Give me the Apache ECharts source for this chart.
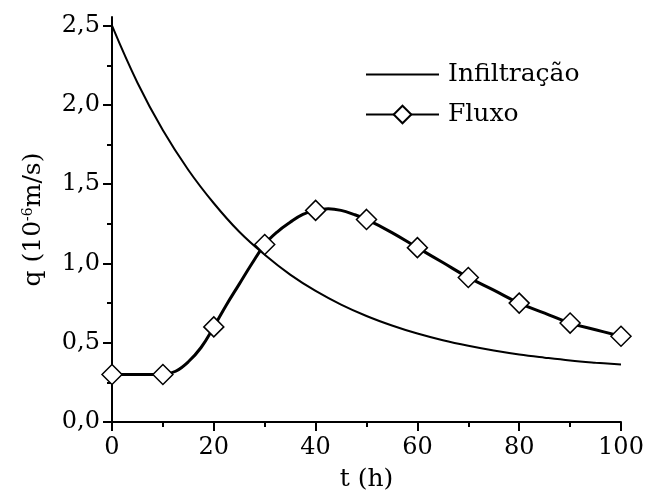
<!DOCTYPE html>
<html>
<head>
<meta charset="utf-8">
<script src="https://cdn.jsdelivr.net/npm/echarts@6/dist/echarts.min.js"></script>
<style>html,body{margin:0;padding:0;background:#fff;}#c{width:647px;height:497px;}</style>
</head>
<body>
<div id="c"></div>
<script>
// Infiltração curve samples (t in h, q in 1e-6 m/s)
var infT = [0,5,10,15,20,25,30,35,40,45,50,55,60,65,70,75,80,85,90,95,100];
var infQ = [2.50,2.14,1.84,1.59,1.38,1.20,1.055,0.93,0.827,0.741,0.669,0.609,0.558,0.516,0.481,0.451,0.426,0.406,0.388,0.374,0.362];
// Fluxo curve samples
var fluT = [0,5,10,12.5,15,17.5,20,22.5,25,27.5,30,32.5,35,37.5,40,42.5,45,47.5,50,55,60,65,70,75,80,85,90,95,100];
var fluQ = [0.30,0.30,0.30,0.32,0.38,0.47,0.60,0.74,0.87,1.00,1.12,1.20,1.26,1.31,1.335,1.345,1.335,1.31,1.278,1.195,1.10,1.006,0.912,0.832,0.75,0.687,0.624,0.582,0.541];
// Fluxo marker times
var markerT = [0,10,20,30,40,50,60,70,80,90,100];
var yLabels = [0,0.5,1.0,1.5,2.0,2.5];
var yMinor = [0.25,0.75,1.25,1.75,2.25];

var FONT = 'DejaVu Serif';
var chart = echarts.init(document.getElementById('c'));
var infData = infT.map(function(t,i){return [t, infQ[i]];});
var fluData = fluT.map(function(t,i){
  var item = {value:[t, fluQ[i]]};
  if (markerT.indexOf(t) < 0) item.symbol = 'none';
  return item;
});
chart.setOption({
  animation:false,
  backgroundColor:'#fff',
  grid:{left:112,right:26,top:17,bottom:74,containLabel:false},
  legend:{
    orient:'vertical', left:365, top:62, padding:0,
    itemWidth:73, itemHeight:22, itemGap:15,
    textStyle:{fontFamily:FONT,fontSize:25,color:'#000',padding:[0,0,0,4]},
    data:['Infiltração','Fluxo']
  },
  xAxis:{
    type:'value', min:0, max:100, interval:20,
    name:'t (h)', nameLocation:'middle', nameGap:45,
    nameTextStyle:{fontFamily:FONT,fontSize:25,color:'#000'},
    axisLine:{lineStyle:{color:'#000',width:2}},
    axisTick:{length:9,lineStyle:{color:'#000',width:2}},
    minorTick:{show:true,splitNumber:2,length:5,lineStyle:{color:'#000',width:2}},
    splitLine:{show:false},
    axisLabel:{fontFamily:FONT,fontSize:24,color:'#000',margin:14}
  },
  yAxis:[{
    type:'value', min:0, max:2.555,
    name:'{a|q (10}{s|-6}{a|m/s)}', nameLocation:'middle', nameGap:66,
    nameTextStyle:{rich:{a:{fontFamily:FONT,fontSize:25,color:'#000'},s:{fontFamily:FONT,fontSize:14,color:'#000',verticalAlign:'top',padding:[0,0,10,0]}}},
    axisLine:{show:true,lineStyle:{color:'#000',width:2}},
    axisTick:{show:true,length:9,customValues:yLabels,lineStyle:{color:'#000',width:2}},
    splitLine:{show:false},
    axisLabel:{fontFamily:FONT,fontSize:24,color:'#000',margin:12,customValues:yLabels,
      formatter:function(v){return v.toFixed(1).replace('.',',');}}
  },{
    type:'value', min:0, max:2.555, position:'left', offset:0,
    axisLine:{show:false},
    axisTick:{show:true,length:5,customValues:yMinor,lineStyle:{color:'#000',width:2}},
    axisLabel:{show:false},
    splitLine:{show:false}
  }],
  series:[{
    name:'Infiltração', type:'line', data:infData, smooth:0.4,
    symbol:'none', lineStyle:{color:'#000',width:2}, itemStyle:{color:'rgba(0,0,0,0)'}
  },{
    name:'Fluxo', type:'line', data:fluData, smooth:0.4,
    symbol:'diamond', symbolSize:20, showAllSymbol:true,
    lineStyle:{color:'#000',width:3},
    itemStyle:{color:'#fff',borderColor:'#000',borderWidth:1.5}
  }]
});
</script>
</body>
</html>
